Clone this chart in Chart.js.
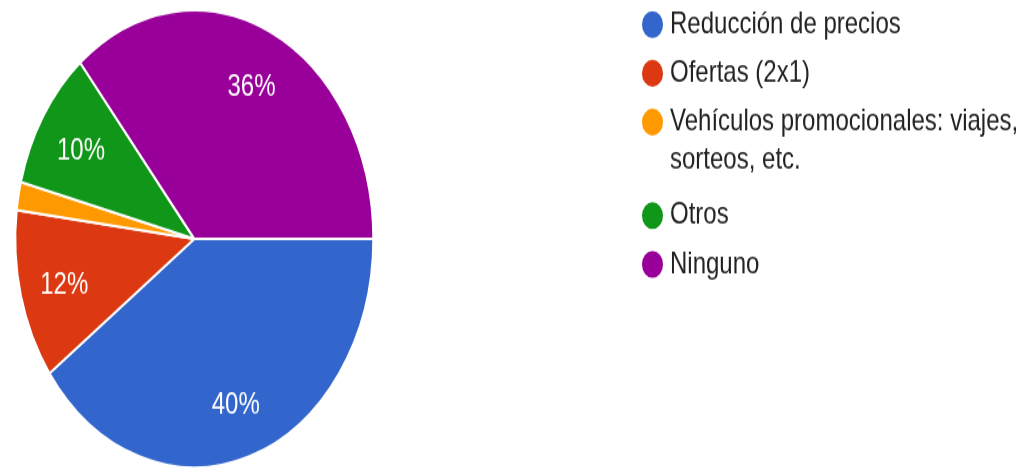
<!DOCTYPE html>
<html>
<head>
<meta charset="utf-8">
<script src="https://cdn.jsdelivr.net/npm/chart.js@4/dist/chart.umd.min.js"></script>
<style>
  html, body { margin: 0; padding: 0; background: #fff; }
  body { width: 1032px; height: 470px; overflow: hidden; }
  /* the source picture is stretched vertically, so the whole chart is too */
  #wrap { width: 1032px; height: 368px; transform: scaleY(1.2772); transform-origin: 0 0; }
</style>
</head>
<body>
<div id="wrap"><canvas id="pie" width="1032" height="368"></canvas></div>
<script>
// --- DATA ---
const labels = [
    'Reducción de precios',
    'Ofertas (2x1)',
    ['Vehículos promocionales: viajes,', 'sorteos, etc.'],
    'Otros',
    'Ninguno'
];
const values = [40, 12, 2, 10, 36];
const colors = ['#3366cc', '#dc3912', '#ff9900', '#109618', '#990099'];

const FONT = '"Liberation Sans", Arial, sans-serif';

// percent labels inside the slices (hidden for very small slices)
const sliceLabels = {
    id: 'sliceLabels',
    afterDatasetsDraw(chart) {
        const ctx = chart.ctx;
        const meta = chart.getDatasetMeta(0);
        const total = values.reduce((a, b) => a + b, 0);
        ctx.save();
        ctx.fillStyle = '#fff';
        ctx.font = '24px ' + FONT;
        ctx.textAlign = 'center';
        ctx.textBaseline = 'middle';
        meta.data.forEach((arc, i) => {
            const pct = values[i] / total * 100;
            if (pct < 5) return;
            const p = arc.getProps(['x', 'y', 'startAngle', 'endAngle', 'outerRadius'], true);
            const mid = (p.startAngle + p.endAngle) / 2;
            const r = p.outerRadius * 0.75;
            ctx.fillText(Math.round(pct) + '%', p.x + Math.cos(mid) * r, p.y + Math.sin(mid) * r + 3);
        });
        ctx.restore();
    }
};

// move the legend to where it sits in the picture
const legendPlace = {
    id: 'legendPlace',
    afterLayout(chart) {
        const lg = chart.legend;
        if (!lg) return;
        const dx = 632.8 - lg.left;
        lg.left += dx;
        lg.right += dx;
        lg.top = -7;
    }
};

new Chart(document.getElementById('pie'), {
    type: 'pie',
    data: {
        labels: labels,
        datasets: [{
            data: values,
            backgroundColor: colors,
            borderColor: '#fff',
            borderWidth: 2
        }]
    },
    options: {
        responsive: false,
        animation: false,
        rotation: 90,
        layout: { padding: { left: 12.5, top: 7, right: 260.5, bottom: 1 } },
        plugins: {
            tooltip: { enabled: false },
            legend: {
                position: 'right',
                align: 'start',
                maxWidth: 399,
                labels: {
                    usePointStyle: true,
                    pointStyle: 'circle',
                    boxWidth: 11,
                    boxHeight: 16.3,
                    padding: 14.2,
                    color: '#222',
                    font: { size: 24, family: FONT, lineHeight: 1.23 }
                }
            }
        }
    },
    plugins: [sliceLabels, legendPlace]
});
</script>
</body>
</html>
